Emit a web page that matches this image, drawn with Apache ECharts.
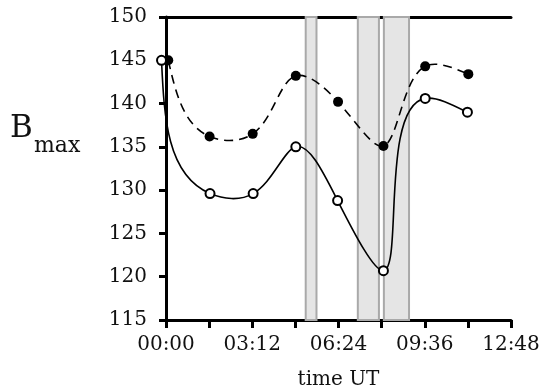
<!DOCTYPE html>
<html>
<head>
<meta charset="utf-8">
<script src="https://cdn.jsdelivr.net/npm/echarts@6/dist/echarts.min.js"></script>
<style>
  html, body { margin: 0; padding: 0; background: #fff; }
  #chart { width: 544px; height: 390px; }
</style>
</head>
<body>
<div id="chart"></div>
<script>
// time in minutes after 00:00 UT
const filledTimes = [5, 97, 193, 289, 383, 484, 577, 673];
const filledValues = [145.0, 136.2, 136.5, 143.2, 140.2, 135.1, 144.3, 143.4];
const openTimes = [-10, 98, 194, 289, 382, 484, 577, 671];
const openValues = [145.0, 129.6, 129.6, 135.0, 128.8, 120.7, 140.6, 139.0];
// shaded intervals [start, end] in minutes
const bands = [[311, 335], [427, 474], [485, 541]];

const FONT = 'DejaVu Serif';

function hhmm(v) {
    const m = Math.round(v);
    const h = Math.floor(m / 60);
    const mm = m % 60;
    return String(h).padStart(2, '0') + ':' + String(mm).padStart(2, '0');
}

// natural cubic spline through the pixel points, chord-length parameterised
function splinePath(pts) {
    const n = pts.length - 1;
    const h = [];
    for (let i = 0; i < n; i++) {
        h.push(Math.hypot(pts[i + 1][0] - pts[i][0], pts[i + 1][1] - pts[i][1]) || 1);
    }
    const tangents = [0, 1].map(k => {
        const a = [], b = [], c = [], d = [];
        for (let i = 0; i <= n; i++) {
            if (i === 0) {
                a.push(0); b.push(2); c.push(1);
                d.push(3 * (pts[1][k] - pts[0][k]) / h[0]);
            } else if (i === n) {
                a.push(1); b.push(2); c.push(0);
                d.push(3 * (pts[n][k] - pts[n - 1][k]) / h[n - 1]);
            } else {
                a.push(h[i]); b.push(2 * (h[i - 1] + h[i])); c.push(h[i - 1]);
                d.push(3 * (h[i] * (pts[i][k] - pts[i - 1][k]) / h[i - 1] +
                            h[i - 1] * (pts[i + 1][k] - pts[i][k]) / h[i]));
            }
        }
        // tridiagonal solve
        for (let i = 1; i <= n; i++) {
            const w = a[i] / b[i - 1];
            b[i] -= w * c[i - 1];
            d[i] -= w * d[i - 1];
        }
        const m = new Array(n + 1);
        m[n] = d[n] / b[n];
        for (let i = n - 1; i >= 0; i--) m[i] = (d[i] - c[i] * m[i + 1]) / b[i];
        return m;
    });
    let path = 'M' + pts[0][0] + ' ' + pts[0][1];
    for (let i = 0; i < n; i++) {
        const s = h[i] / 3;
        path += ' C' + (pts[i][0] + tangents[0][i] * s) + ' ' + (pts[i][1] + tangents[1][i] * s) +
            ' ' + (pts[i + 1][0] - tangents[0][i + 1] * s) + ' ' + (pts[i + 1][1] - tangents[1][i + 1] * s) +
            ' ' + pts[i + 1][0] + ' ' + pts[i + 1][1];
    }
    return path;
}

function curveSeries(xs, ys, dash) {
    return {
        type: 'custom',
        coordinateSystem: 'cartesian2d',
        data: [0],
        silent: true,
        z: 2,
        renderItem: (params, api) => ({
            type: 'path',
            shape: { pathData: splinePath(xs.map((x, i) => api.coord([x, ys[i]]))) },
            style: { fill: 'none', stroke: '#000', lineWidth: 1.6, lineDash: dash }
        })
    };
}

const chart = echarts.init(document.getElementById('chart'));

const option = {
    animation: false,
    grid: { left: 166, right: 33, top: 17, bottom: 70, outerBoundsMode: 'none' },
    xAxis: [
        {
            type: 'value',
            min: 0,
            max: 768,
            interval: 96,
            name: 'time UT',
            nameLocation: 'middle',
            nameGap: 50,
            nameTextStyle: { fontFamily: FONT, fontSize: 20, color: '#111' },
            axisLine: { lineStyle: { color: '#000', width: 3 } },
            axisTick: { length: 8, lineStyle: { color: '#000', width: 3 } },
            splitLine: { show: false },
            axisLabel: {
                margin: 15,
                fontFamily: FONT,
                fontSize: 20,
                color: '#111',
                showMaxLabel: true,
                formatter: v => (Math.round(v / 96) % 2 === 0 ? hhmm(v) : '')
            }
        },
        {
            type: 'value',
            position: 'top',
            min: 0,
            max: 768,
            axisLine: { show: true, lineStyle: { color: '#000', width: 3 } },
            axisTick: { show: false },
            axisLabel: { show: false },
            splitLine: { show: false }
        }
    ],
    yAxis: [
        {
            type: 'value',
            min: 115,
            max: 150,
            interval: 5,
            axisLine: { show: true, lineStyle: { color: '#000', width: 3 } },
            axisTick: { show: true, length: 7, lineStyle: { color: '#000', width: 3 } },
            splitLine: { show: false },
            axisLabel: { margin: 19, fontFamily: FONT, fontSize: 20, color: '#111' }
        },
        {
            type: 'value',
            position: 'right',
            min: 115,
            max: 150,
            axisLine: { show: true, lineStyle: { color: '#000', width: 2 } },
            axisTick: { show: false },
            axisLabel: { show: false },
            splitLine: { show: false }
        }
    ],
    graphic: [
        {
            type: 'text',
            x: 10,
            y: 128.5,
            style: { text: 'B', fontFamily: FONT, fontSize: 31, fill: '#111', verticalAlign: 'middle' }
        },
        {
            type: 'text',
            x: 34,
            y: 146,
            style: { text: 'max', fontFamily: FONT, fontSize: 22, fill: '#111', verticalAlign: 'middle' }
        }
    ],
    series: [
        {
            type: 'line',
            name: 'bands',
            data: [],
            silent: true,
            markArea: {
                silent: true,
                itemStyle: { color: '#e5e5e5', borderColor: '#a9a9a9', borderWidth: 2 },
                data: bands.map(b => [{ xAxis: b[0] }, { xAxis: b[1] }])
            }
        },
        curveSeries(filledTimes, filledValues, [9, 6]),
        curveSeries(openTimes, openValues, null),
        {
            type: 'scatter',
            name: 'filled',
            data: filledTimes.map((t, i) => [t, filledValues[i]]),
            clip: false,
            symbol: 'circle',
            symbolSize: 10,
            itemStyle: { color: '#000', opacity: 1 },
            z: 3
        },
        {
            type: 'scatter',
            name: 'open',
            data: openTimes.map((t, i) => [t, openValues[i]]),
            clip: false,
            symbol: 'circle',
            symbolSize: 9,
            itemStyle: { color: '#fff', borderColor: '#000', borderWidth: 2, opacity: 1 },
            z: 4
        }
    ]
};

chart.setOption(option);
</script>
</body>
</html>
